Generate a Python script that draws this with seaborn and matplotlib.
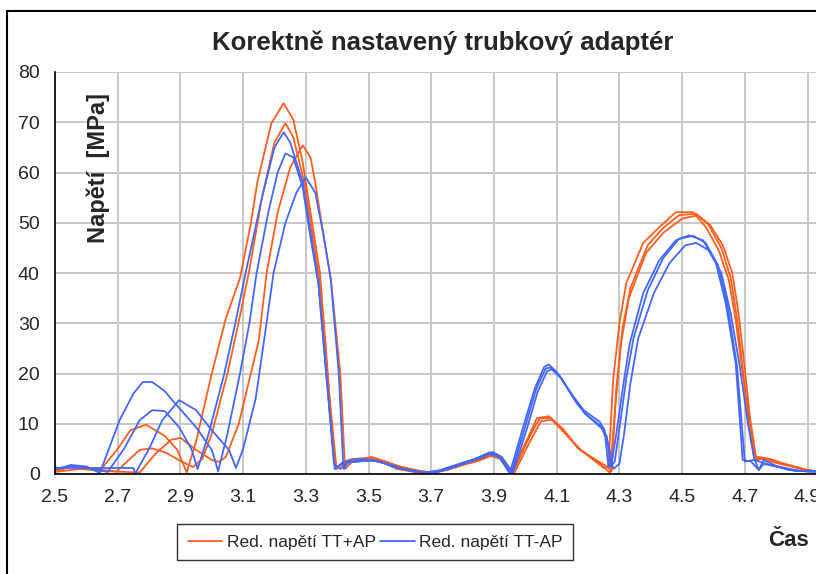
import matplotlib
matplotlib.use("Agg")
import matplotlib.pyplot as plt
from matplotlib.lines import Line2D
from matplotlib.patches import Rectangle
import seaborn as sns
import pandas as pd

# values: (cas, napeti)
o1 = [(2.50,0.8),(2.55,1.4),(2.60,1.0),(2.65,1.2),(2.70,5.0),(2.74,8.7),(2.79,9.8),(2.85,7.6),(2.89,4.8),
      (2.92,0.3),(2.95,6.5),(3.00,20),(3.045,31),(3.09,39),(3.125,50),(3.145,58),(3.19,69.8),(3.229,73.8),
      (3.26,70.5),(3.29,62),(3.315,52),(3.345,40),(3.37,20),(3.385,6),(3.395,1),(3.42,2.5),(3.45,3.0),
      (3.50,3.2),(3.55,2.4),(3.60,1.5),(3.65,0.8),(3.70,0.3),(3.75,0.8),(3.80,1.8),(3.85,2.6),(3.89,3.6),
      (3.92,3.0),(3.955,0.2),(4.005,6.8),(4.037,11.1),(4.075,11.5),(4.11,9.4),(4.164,5.4),(4.205,3.4),
      (4.25,1.2),(4.265,1.5),(4.28,18.7),(4.30,30),(4.322,38),(4.376,46),(4.427,49.1),(4.48,52.1),
      (4.535,52.1),(4.576,49.1),(4.617,44.5),(4.649,38.6),(4.671,30.6),(4.693,20),(4.712,12),(4.734,2.8),
      (4.76,3.0),(4.80,2.2),(4.85,1.5),(4.90,0.8),(4.95,0.3)]
o2 = [(2.50,0.5),(2.56,1.6),(2.62,1.0),(2.696,0.5),(2.73,2.5),(2.77,4.8),(2.81,5.1),(2.855,4.2),(2.90,2.6),
      (2.94,1.4),(2.97,3),(3.00,8),(3.05,20),(3.085,30),(3.118,40),(3.16,55),(3.20,66),(3.235,69.8),
      (3.26,67),(3.295,58),(3.32,48),(3.345,38),(3.37,19),(3.398,1),(3.43,2.6),(3.46,2.8),(3.51,3.4),
      (3.56,2.4),(3.61,1.2),(3.66,0.6),(3.71,0.2),(3.76,1.0),(3.81,2.0),(3.86,3.0),(3.895,4.0),(3.925,3.2),
      (3.96,0.2),(4.01,7),(4.045,11),(4.08,11.2),(4.12,9),(4.17,5),(4.22,3),(4.26,1.5),(4.275,0.5),
      (4.29,17),(4.31,29),(4.335,37),(4.39,45.5),(4.44,49),(4.49,51.5),(4.545,51.8),(4.585,49.5),
      (4.625,45),(4.655,39),(4.675,31),(4.695,20),(4.71,11),(4.73,3.2),(4.77,2.8),(4.82,2.0),(4.88,1.0),
      (4.95,0.3)]
o3 = [(2.50,0.4),(2.58,1.0),(2.65,0.6),(2.77,0.3),(2.82,4.0),(2.87,6.8),(2.90,7.2),(2.95,4.8),(3.00,2.8),
      (3.023,2.4),(3.045,3.4),(3.086,10),(3.15,26.6),(3.175,40),(3.21,52),(3.25,61),(3.29,65.4),
      (3.315,63),(3.33,58),(3.355,48),(3.38,38.6),(3.41,20),(3.425,1),(3.45,2.6),(3.49,3.2),(3.53,2.8),
      (3.59,1.0),(3.65,0.4),(3.70,0.2),(3.75,1.0),(3.80,2.2),(3.85,3.0),(3.89,3.8),(3.92,3.2),(3.965,0.2),
      (4.015,6.5),(4.05,10.5),(4.085,10.8),(4.12,8.5),(4.18,4.6),(4.23,2.5),(4.27,0.2),(4.285,12),
      (4.305,26),(4.33,35),(4.385,44),(4.44,48),(4.50,50.8),(4.55,51.5),(4.59,49.5),(4.63,45.5),
      (4.66,40),(4.68,32),(4.70,21),(4.715,12),(4.735,3.5),(4.78,3.0),(4.83,2.0),(4.90,0.8),(4.95,0.3)]

b1 = [(2.50,1.0),(2.55,1.6),(2.60,1.3),(2.668,0.4),(2.72,5),(2.77,10.7),(2.81,12.7),(2.85,12.5),(2.896,9.3),
      (2.935,5),(2.955,1.0),(2.99,8),(3.04,20),(3.075,30),(3.108,40),(3.16,55),(3.20,65),(3.229,68),
      (3.25,66),(3.29,58),(3.315,48),(3.34,38),(3.365,20),(3.39,2),(3.41,1.0),(3.43,2.2),(3.47,2.6),
      (3.52,2.6),(3.57,1.8),(3.62,0.8),(3.68,0.2),(3.73,0.8),(3.78,1.8),(3.84,3.0),(3.885,4.3),(3.915,3.6),
      (3.95,0.1),(3.996,10),(4.03,17),(4.06,21.3),(4.075,21.8),(4.10,20.3),(4.155,15.3),(4.186,12.7),
      (4.237,10.4),(4.253,8.7),(4.265,1.4),(4.275,2),(4.29,8),(4.313,18),(4.333,26),(4.376,36),
      (4.427,42.5),(4.48,46.5),(4.522,47.5),(4.567,46.5),(4.608,42),(4.639,34),(4.671,22),(4.685,10),
      (4.693,2.8),(4.72,2.5),(4.744,0.8),(4.76,2.0),(4.81,1.4),(4.86,0.6),(4.95,0.6)]
b2 = [(2.50,0.8),(2.55,1.8),(2.60,1.5),(2.643,0.2),(2.706,10.7),(2.75,16),(2.78,18.3),(2.81,18.3),(2.85,16.5),
      (2.874,14.7),(2.95,9.3),(3.00,4.8),(3.012,2.4),(3.02,0.5),(3.05,8),(3.09,20),(3.12,30),(3.143,40),
      (3.18,52),(3.21,60),(3.235,63.8),(3.26,63),(3.29,57),(3.315,47),(3.34,38),(3.365,20),(3.392,1),
      (3.42,2.4),(3.46,2.4),(3.51,2.8),(3.56,2.0),(3.61,1.0),(3.67,0.3),(3.72,0.6),(3.77,1.6),(3.83,2.8),
      (3.88,4.0),(3.915,3.5),(3.955,0.1),(4.0,9.5),(4.035,17),(4.065,21),(4.08,21.2),(4.11,19.5),
      (4.16,14.5),(4.19,12),(4.24,9.6),(4.26,7.5),(4.272,1.5),(4.285,2.5),(4.30,9),(4.322,19),(4.345,27),
      (4.39,36.5),(4.44,43),(4.49,46.8),(4.535,47.4),(4.575,46),(4.615,41.5),(4.645,33.5),(4.675,21.5),
      (4.69,10),(4.70,2.5),(4.73,2.8),(4.78,1.8),(4.84,0.8),(4.90,0.5),(4.95,0.5)]
b3 = [(2.50,1.2),(2.60,1.2),(2.75,1.2),(2.756,0.1),(2.80,5),(2.842,10.7),(2.896,14.7),(2.95,12.7),(3.00,8.7),
      (3.055,4.8),(3.077,1.2),(3.10,5),(3.14,15),(3.17,28),(3.197,40),(3.235,50),(3.27,56),(3.30,59),
      (3.33,56),(3.355,48),(3.38,38.6),(3.405,20),(3.42,1),(3.44,2.8),(3.48,3.0),(3.53,2.6),(3.58,1.4),
      (3.64,0.5),(3.70,0.1),(3.75,0.9),(3.80,2.0),(3.86,3.2),(3.895,4.4),(3.925,3.4),(3.96,0.2),
      (4.005,9),(4.04,16.5),(4.07,20.5),(4.085,20.8),(4.115,19),(4.165,14),(4.20,11.5),(4.245,9),
      (4.265,6),(4.28,1),(4.30,2),(4.315,8),(4.335,18),(4.36,27),(4.41,36),(4.46,42),(4.51,45.5),
      (4.545,46),(4.585,44.5),(4.625,40),(4.655,32),(4.685,21),(4.71,10),(4.73,3),(4.745,0.8),(4.76,2.8),
      (4.80,1.6),(4.86,0.8),(4.92,0.4),(4.95,1.0)]

series_names = ["Red. napětí TT+AP", "Red. napětí TT-AP"]
x_ticks = [2.5, 2.7, 2.9, 3.1, 3.3, 3.5, 3.7, 3.9, 4.1, 4.3, 4.5, 4.7, 4.9]
y_ticks = [0, 10, 20, 30, 40, 50, 60, 70, 80]

rows = []
for name, runs in [(series_names[0], [o1, o2, o3]), (series_names[1], [b1, b2, b3])]:
    for i, run in enumerate(runs):
        for t, v in run:
            rows.append({"cas": t, "napeti": v, "serie": name, "run": i})
df = pd.DataFrame(rows)

colors = {series_names[0]: "#FF5E1F", series_names[1]: "#4468FF"}

sns.set_style("white")
narrow = ["Liberation Sans Narrow", "DejaVu Sans Condensed", "Liberation Sans", "DejaVu Sans"]
bold_fam = ["Liberation Sans", "DejaVu Sans"]
plt.rcParams["font.family"] = narrow

fig = plt.figure(figsize=(8.16, 5.74), dpi=100)
ax = fig.add_axes([55/816, 1 - 474/574, 1 - 55/816, 402/574])

sns.lineplot(data=df, x="cas", y="napeti", hue="serie", units="run", estimator=None,
             sort=False, palette=colors, linewidth=1.3, legend=False, ax=ax)

ax.set_xlim(2.5, 4.927)
ax.set_ylim(0, 80)
ax.set_xticks(x_ticks)
ax.set_yticks(y_ticks)
ax.set_xticklabels([f"{v:.1f}" for v in x_ticks])
ax.grid(True, color="#C8C8C8", linewidth=1.4)
ax.set_axisbelow(True)
for s in ["top", "right"]:
    ax.spines[s].set_visible(False)
for s in ["left", "bottom"]:
    ax.spines[s].set_color("black")
    ax.spines[s].set_linewidth(1.2)
ax.tick_params(axis="both", direction="out", length=5, width=1, color="black",
               labelsize=14, pad=6)
ax.set_xlabel("")
ax.set_ylabel("")

ax.text(0.0565, 0.761, "Napětí  [MPa]", transform=ax.transAxes, rotation=90,
        ha="center", va="center", fontsize=17, fontweight="bold", family=bold_fam)
fig.text(443/816, 1 - 43/574, "Korektně nastavený trubkový adaptér", ha="center", va="center",
         fontsize=18.5, fontweight="bold", family=bold_fam)
fig.text(768/816, 1 - 541/574, "Čas", ha="left", va="center", fontsize=16, fontweight="bold",
         family=bold_fam)

handles = [Line2D([0], [0], color=colors[n], lw=1.3) for n in series_names]
leg = fig.legend(handles, series_names, loc="center", bbox_to_anchor=(375/816, 1 - 542/574),
                 ncol=2, frameon=True, fancybox=False, fontsize=12.5, handlelength=2.0,
                 handletextpad=0.25, columnspacing=0.25, borderpad=0.6)
leg.get_frame().set_edgecolor("black")
leg.get_frame().set_linewidth(1.0)

fig.patches.append(Rectangle((7/816, -0.1), 1.2, 1.1 - 11/574, transform=fig.transFigure,
                             fill=False, edgecolor="black", linewidth=1.5))

fig.savefig("out.png", dpi=100)
